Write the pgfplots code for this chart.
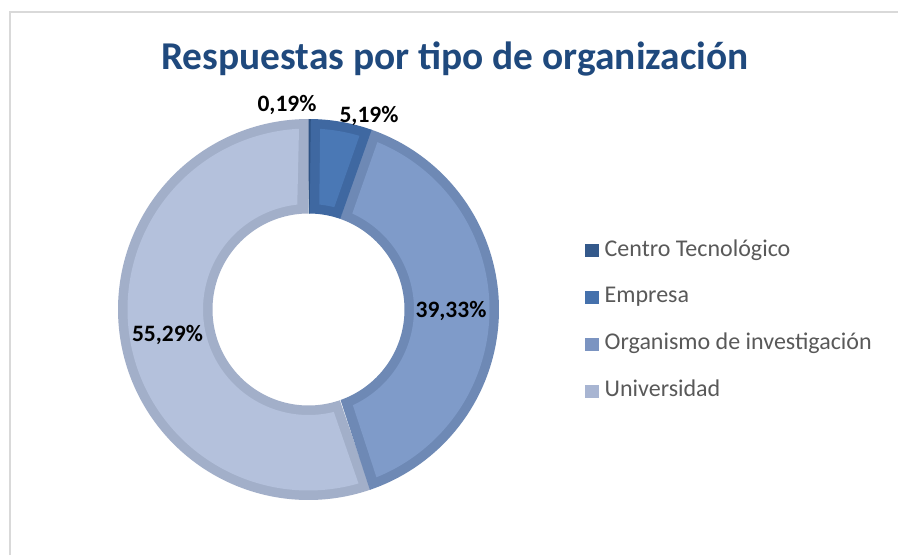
\documentclass[border=0pt]{standalone}
\usepackage{fontspec}
\setmainfont{Carlito}
\usepackage{pgfplots}
\pgfplotsset{compat=1.18}
\definecolor{titleC}{HTML}{1F497D}
\definecolor{legT}{HTML}{595959}
\definecolor{frameC}{HTML}{D9D9D9}
\definecolor{cB}{HTML}{2E5384}
\definecolor{cL}{HTML}{34598B}
\definecolor{eB}{HTML}{3F68A1}
\definecolor{eF}{HTML}{4A78B5}
\definecolor{eL}{HTML}{4571AC}
\definecolor{oB}{HTML}{6E89B5}
\definecolor{oF}{HTML}{7F9BC9}
\definecolor{oL}{HTML}{7B94C1}
\definecolor{uB}{HTML}{A2AFC9}
\definecolor{uF}{HTML}{B4C1DC}
\definecolor{uL}{HTML}{A8B5D2}
% data (percent)
\def\pA{0.19}\def\pB{5.19}\def\pC{39.33}\def\pD{55.29}
\pgfmathsetmacro\aB{3.6*\pA}
\pgfmathsetmacro\aC{\aB+3.6*\pB}
\pgfmathsetmacro\aD{\aC+3.6*\pC}
\pgfmathsetmacro\aE{\aD+3.6*\pD}
\def\Ro{190.5}\def\Ri{96}\def\dd{9.5}
\pgfmathsetmacro\RoI{\Ro-\dd}
\pgfmathsetmacro\RiI{\Ri+\dd}
\pgfmathsetmacro\dO{asin(\dd/\RoI)}
\pgfmathsetmacro\dI{asin(\dd/\RiI)}
% ring segment: outer arc o1->o2 at R, inner arc i2->i1 at r
\newcommand\seg[7]{%
\addplot[#7, forget plot, domain=0:2, samples=401, variable=\t]
 ({ifthenelse(\t<=1,(#5),(#6))*sin(ifthenelse(\t<=1,(#1)+\t*((#2)-(#1)),(#4)-(\t-1)*((#4)-(#3))))},
  {ifthenelse(\t<=1,(#5),(#6))*cos(ifthenelse(\t<=1,(#1)+\t*((#2)-(#1)),(#4)-(\t-1)*((#4)-(#3))))}) -- cycle;
}
\begin{document}
\begin{tikzpicture}
\useasboundingbox (0,0) rectangle (898pt,555pt);
\fill[white] (0,0) rectangle (898pt,555pt);
\draw[frameC, line width=2pt] (10pt,0pt) -- (10pt,543pt) -- (898pt,543pt);
\node[anchor=base, text=titleC, font=\fontsize{39.4}{46}\selectfont\bfseries] at (455pt,485pt) {Respuestas por tipo de organización};
\begin{axis}[at={(308.5pt,245.5pt)}, anchor=origin, x=1pt, y=1pt,
  xmin=-200, xmax=200, ymin=-200, ymax=200, hide axis, clip=false,
  legend cell align=left,
  legend style={at={(473.5pt,188.5pt)}, anchor=west, draw=none, fill=none,
    font=\fontsize{24}{28}\selectfont, text=legT,
    nodes={inner sep=0pt, text height=16pt, text depth=5pt},
    row sep=26pt,
    /tikz/every odd column/.append style={column sep=6pt}},
  legend image code/.code={\fill[#1] (0pt,-6.5pt) rectangle (13.5pt,6.5pt);},
]
% Universidad (drawn first, border slightly overlapping the start)
\seg{\aD}{\aE+0.6}{\aD}{\aE+0.6}{\Ro}{\Ri}{fill=uB, draw=none}
\seg{\aD+\dO}{\aE-\dO}{\aD+\dI}{\aE-\dI}{\RoI}{\RiI}{fill=uF, draw=none}
% Organismo
\seg{\aC-0.3}{\aD+0.25}{\aC-0.3}{\aD+0.25}{\Ro}{\Ri}{fill=oB, draw=none}
\seg{\aC+\dO}{\aD-\dO}{\aC+\dI}{\aD-\dI}{\RoI}{\RiI}{fill=oF, draw=none}
% Empresa
\seg{\aB-0.3}{\aC}{\aB-0.3}{\aC}{\Ro}{\Ri}{fill=eB, draw=none}
\seg{\aB+\dO}{\aC-\dO}{\aB+\dI}{\aC-\dI}{\RoI}{\RiI}{fill=eF, draw=none}
% Centro Tecnologico
\seg{0}{\aB}{0}{\aB}{\Ro}{\Ri}{fill=cB, draw=none}
\addlegendimage{fill=cL, draw=none}\addlegendentry{Centro Tecnológico}
\addlegendimage{fill=eL, draw=none}\addlegendentry{Empresa}
\addlegendimage{fill=oL, draw=none}\addlegendentry{Organismo de investigación}
\addlegendimage{fill=uL, draw=none}\addlegendentry{Universidad}
\begin{scope}[every node/.style={font=\fontsize{23.5}{27}\selectfont\bfseries, text=black}]
\node at (axis cs:-21.5,204.5) {0,19\%};
\node at (axis cs:60.5,193.5) {5,19\%};
\node at (axis cs:142.5,-1.5) {39,33\%};
\node at (axis cs:-141,-25.5) {55,29\%};
\end{scope}
\end{axis}
\end{tikzpicture}
\end{document}
